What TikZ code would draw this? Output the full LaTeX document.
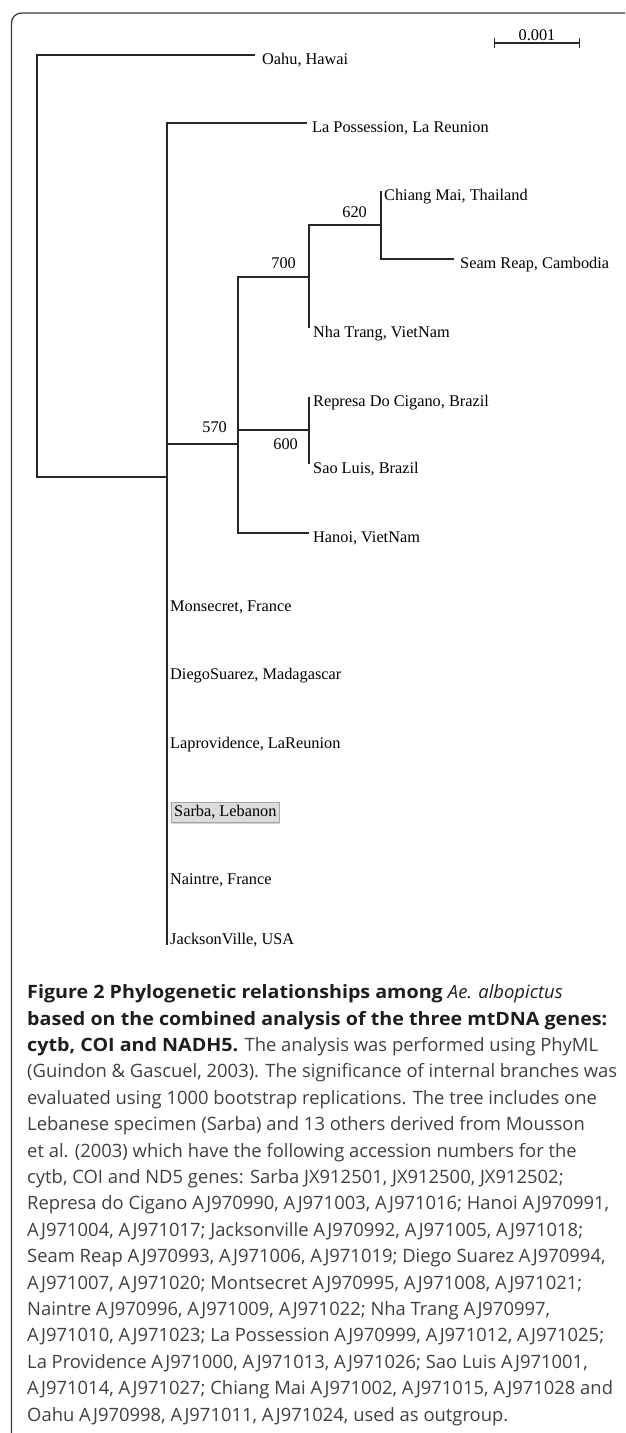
\documentclass[tikz,border=0pt]{standalone}
\usepackage{fontspec}
\setmainfont{Open Sans}[BoldFeatures={FakeStretch=1.07}]
\newfontfamily\serifface{Liberation Serif}
\usetikzlibrary{arrows.meta,shadows}

\newcommand\treefont{\serifface\fontsize{16.3pt}{19pt}\selectfont}
\newcommand\capfont{\fontsize{18.4pt}{26.4pt}\selectfont}

\definecolor{framegray}{HTML}{3C3C3C}
\definecolor{captext}{HTML}{404040}
\definecolor{capbold}{HTML}{1E1E1E}
\definecolor{boxgray}{HTML}{DCDCDC}

\begin{document}
\begin{tikzpicture}[x=1pt, y=-1pt,
	branch/.style={draw=black!85, line width=1.1pt},
	leaf/.style={anchor=base west, inner sep=0pt, font=\treefont},
	boot/.style={anchor=base east, inner sep=0pt, font=\treefont},
	hilite/.style={draw=black!35, fill=boxgray, inner xsep=3pt, inner ysep=2.5pt,
		text height=11pt, text depth=3.5pt,
		drop shadow={shadow xshift=1pt, shadow yshift=-2pt, opacity=0.35}}]
	\useasboundingbox (0,0) rectangle (625,1433);
	\draw[framegray, line width=1.3pt, rounded corners=10pt] (11.5,1433) -- (11.5,13) -- (625,13);

	\coordinate (root) at (37,477);
	\coordinate (core) at (167,477);
	\coordinate (n570) at (238,444);
	\coordinate (n700) at (309,277);
	\coordinate (n620) at (381,225);
	\coordinate (n600) at (309,430);
	\coordinate (t-oahu) at (255,55);
	\coordinate (t-lapos) at (307,123);
	\coordinate (t-chiang) at (381,191);
	\coordinate (t-seam) at (454,259);
	\coordinate (t-nha) at (309,328);
	\coordinate (t-represa) at (309,397);
	\coordinate (t-sao) at (309,464);
	\coordinate (t-hanoi) at (309,533);
	\coordinate (t-jack) at (167,945);

	\draw[branch] (t-oahu) -| (root) -- (core);
	\draw[branch] (t-lapos) -| (core) -- (t-jack);
	\draw[branch] (n570) -- (n570 -| core);
	\draw[branch] (n700) -| (n570) |- (t-hanoi);
	\draw[branch] (n600) -- (n600 -| n570);
	\draw[branch] (n620) -| (n700) -- (t-nha);
	\draw[branch] (t-chiang) -- (n620) |- (t-seam);
	\draw[branch] (t-represa) -- (t-sao);

	\node[leaf] (oahu) at (262,64) {Oahu, Hawai};
	\node[leaf] (lapos) at (312,132) {La Possession, La Reunion};
	\node[leaf] (chiang) at (384,200) {Chiang Mai, Thailand};
	\node[leaf] (seam) at (460,268) {Seam Reap, Cambodia};
	\node[leaf] (nha) at (313,337) {Nha Trang, VietNam};
	\node[leaf] (represa) at (313,406) {Represa Do Cigano, Brazil};
	\node[leaf] (sao) at (313,473) {Sao Luis, Brazil};
	\node[leaf] (hanoi) at (313,542) {Hanoi, VietNam};
	\node[leaf] (mons) at (170,611) {Monsecret, France};
	\node[leaf] (diego) at (170,679) {DiegoSuarez, Madagascar};
	\node[leaf] (laprov) at (170,748) {Laprovidence, LaReunion};
	\node[leaf, hilite] (sarba) at (171,816) {Sarba, Lebanon};
	\node[leaf] (naintre) at (170,884) {Naintre, France};
	\node[leaf] (jack) at (170,944) {JacksonVille, USA};

	\node[boot] (b620) at (367,217) {620};
	\node[boot] (b700) at (296,268) {700};
	\node[boot] (b570) at (227,432) {570};
	\node[boot] (b600) at (298,449) {600};

	\coordinate (sb-a) at (494,43);
	\coordinate (sb-b) at (580,43);
	\draw[branch, {Bar[width=10pt]}-{Bar[width=10pt]}] (sb-a) -- (sb-b);
	\node[leaf, anchor=base] (sb-lab) at (537,40.5) {0.001};

	\node[anchor=base west, inner sep=0pt, align=left, font=\capfont, text=captext] (caption) at (27,1421) {%
		\textcolor{capbold}{\bfseries Figure 2 Phylogenetic relationships among \textit{\mdseries Ae. albopictus}}\\
		\textcolor{capbold}{\bfseries based on the combined analysis of the three mtDNA genes:}\\
		\textcolor{capbold}{\bfseries cytb, COI and NADH5.} The analysis was performed using PhyML\\
		(Guindon \& Gascuel, 2003). The significance of internal branches was\\
		evaluated using 1000 bootstrap replications. The tree includes one\\
		Lebanese specimen (Sarba) and 13 others derived from Mousson\\
		et al. (2003) which have the following accession numbers for the\\
		cytb, COI and ND5 genes: Sarba JX912501, JX912500, JX912502;\\
		Represa do Cigano AJ970990, AJ971003, AJ971016; Hanoi AJ970991,\\
		AJ971004, AJ971017; Jacksonville AJ970992, AJ971005, AJ971018;\\
		Seam Reap AJ970993, AJ971006, AJ971019; Diego Suarez AJ970994,\\
		AJ971007, AJ971020; Montsecret AJ970995, AJ971008, AJ971021;\\
		Naintre AJ970996, AJ971009, AJ971022; Nha Trang AJ970997,\\
		AJ971010, AJ971023; La Possession AJ970999, AJ971012, AJ971025;\\
		La Providence AJ971000, AJ971013, AJ971026; Sao Luis AJ971001,\\
		AJ971014, AJ971027; Chiang Mai AJ971002, AJ971015, AJ971028 and\\
		Oahu AJ970998, AJ971011, AJ971024, used as outgroup.};
\end{tikzpicture}
\end{document}
